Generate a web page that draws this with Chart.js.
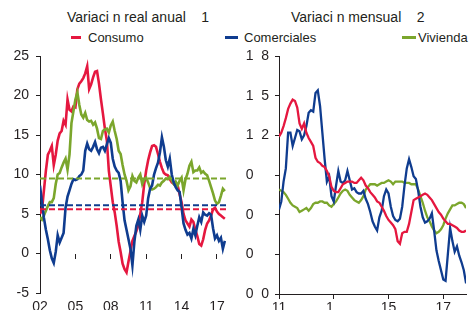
<!DOCTYPE html>
<html lang="es">
<head>
<meta charset="utf-8">
<script src="https://cdn.jsdelivr.net/npm/chart.js@4.4.1/dist/chart.umd.min.js"></script>
<style>
  html, body { margin: 0; padding: 0; background: #fff; }
  body { width: 476px; height: 310px; overflow: hidden; position: relative;
         font-family: "Liberation Sans", Arial, sans-serif; color: #231f20; }
  .titulo { position: absolute; top: 10px; font-size: 14px; line-height: 14px; white-space: pre; }
  .leyenda { position: absolute; top: 31px; font-size: 13px; line-height: 13px; white-space: pre; }
  .marca { position: absolute; top: 36px; height: 3px; }
  canvas { position: absolute; top: 0; }
</style>
</head>
<body>
<div class="titulo" style="left:67px">Variaci n real anual    1</div>
<div class="titulo" style="left:291px">Variaci n mensual    2</div>

<div class="marca" id="m1" style="left:71px;width:10px"></div>
<div class="leyenda" style="left:88px">Consumo</div>
<div class="marca" id="m2" style="left:225px;width:13px"></div>
<div class="leyenda" style="left:244px">Comerciales</div>
<div class="marca" id="m3" style="left:402px;width:14px"></div>
<div class="leyenda" style="left:418px">Vivienda</div>

<canvas id="izq" width="236" height="330" style="left:0"></canvas>
<canvas id="der" width="240" height="330" style="left:236px"></canvas>

<script>
// colores de las series
const rojo = '#e5173f'
const azul = '#0f3c8f'
const verde = '#7ba62c'
const ejeColor = '#231f20'

// panel izquierdo: variación real anual, datos bimestrales desde 2002
const inicioIzq = 2002
const pasoIzq = 1 / 6
const consumoAnual = [5.0,5.5,8.0,10.5,12.5,13.0,13.6,11.2,12.5,14.3,
  15.2,15.5,16.8,16.3,19.5,18.2,18.0,18.6,18.5,20.8,
  21.5,21.8,22.2,22.8,23.7,20.8,21.4,22.3,23.0,23.1,
  21.5,19.5,17.7,15.8,14.3,10.5,8.5,6.5,5.2,3.5,
  1.5,0.2,-1.3,-2.0,-2.4,-1.0,0.3,1.6,2.2,2.8,
  3.6,5.0,6.5,8.8,10.5,11.8,12.8,13.6,13.7,13.5,
  12.6,11.6,10.8,10.2,10.0,9.9,9.4,9.0,8.8,8.7,
  8.6,7.5,6.5,5.0,4.2,3.8,3.4,4.3,4.0,3.0,
  2.2,1.2,1.0,1.8,3.0,3.8,4.2,4.8,5.6,5.8,
  5.3,5.0,4.8,4.6,4.4]
const comercialesAnual = [8.6,6.5,4.5,3.0,1.8,0.4,-0.6,-1.2,0.2,2.3,
  1.4,2.0,2.6,5.8,7.2,8.0,8.8,9.4,9.3,9.4,
  9.8,10.0,10.5,13.0,13.9,13.2,13.0,13.5,14.1,13.2,
  12.7,13.4,13.5,13.0,13.8,14.6,14.0,12.0,11.0,10.5,
  10.2,9.2,6.5,4.2,3.0,1.8,0.6,-1.5,1.5,3.5,
  4.3,3.0,4.8,4.0,4.8,7.0,8.2,8.6,10.0,10.8,
  11.5,12.8,14.7,13.5,11.8,11.0,12.0,10.0,9.0,8.4,
  8.0,7.8,5.8,3.8,3.0,2.4,2.6,1.9,3.1,2.3,
  3.5,4.6,4.0,5.2,4.9,4.8,5.1,4.9,3.2,1.9,
  2.3,1.6,2.0,0.6,1.6]
const viviendaAnual = [4.6,4.3,4.8,5.4,6.0,6.5,6.5,7.0,8.8,10.0,
  10.2,10.9,11.5,12.0,10.6,12.5,16.5,18.0,19.5,20.4,
  18.8,17.6,17.2,17.8,16.9,16.7,16.8,16.3,16.6,15.8,
  14.6,14.5,15.5,15.7,15.8,15.3,16.2,16.7,15.5,14.5,
  13.0,12.6,11.2,10.0,9.2,8.0,8.5,9.8,9.2,9.0,
  9.6,10.0,8.8,9.4,9.6,9.0,8.3,8.1,8.2,8.4,
  8.7,8.6,9.0,9.2,9.5,9.4,9.7,9.3,8.8,9.1,
  8.6,9.2,9.6,8.0,9.4,10.1,11.1,11.6,10.3,10.5,
  10.5,10.9,10.2,10.4,10.1,9.9,9.2,8.4,7.6,6.7,
  6.3,6.5,7.3,8.2,7.9]
// promedios (líneas punteadas): consumo, comerciales, vivienda
const promediosAnual = [5.6, 6.1, 9.5]
const ticksIzqX = [2002, 2005, 2008, 2011, 2014, 2017]
const etiquetasIzqX = ['02', '05', '08', '11', '14', '17']
const ticksIzqY = [-5, 0, 5, 10, 15, 20, 25]
const etiquetasIzqY = ['-5', '0', '5', '10', '15', '20', '25']

// panel derecho: variación mensual, datos mensuales desde 2011
const inicioDer = 2011
const pasoDer = 1 / 12
const consumoMensual = [1.19,1.22,1.27,1.33,1.40,1.44,1.47,1.46,1.41,1.29,
  1.25,1.29,1.22,1.18,1.15,1.12,1.03,1.00,0.99,0.97,
  0.96,0.93,0.89,0.81,0.78,0.77,0.77,0.80,0.83,0.84,
  0.85,0.85,0.85,0.84,0.84,0.86,0.88,0.86,0.82,0.80,
  0.77,0.75,0.73,0.70,0.69,0.66,0.63,0.59,0.56,0.54,
  0.52,0.49,0.40,0.38,0.46,0.47,0.47,0.53,0.62,0.71,
  0.72,0.73,0.74,0.75,0.76,0.75,0.73,0.71,0.68,0.65,
  0.62,0.60,0.57,0.55,0.53,0.53,0.52,0.51,0.50,0.48,
  0.47,0.47,0.48]
const comercialesMensual = [0.64,0.70,0.85,0.95,1.22,1.22,1.12,1.18,1.24,1.23,
  1.17,1.20,1.27,1.37,1.39,1.38,1.52,1.54,1.42,1.22,
  1.02,0.85,0.89,0.74,0.70,0.82,0.93,0.85,0.84,0.86,
  0.93,0.86,0.79,0.80,0.77,0.76,0.76,0.78,0.72,0.68,
  0.62,0.55,0.51,0.48,0.58,0.63,0.74,0.79,0.76,0.66,
  0.59,0.56,0.55,0.57,0.66,0.82,0.95,1.02,0.96,0.89,
  0.87,0.78,0.66,0.58,0.54,0.55,0.57,0.61,0.48,0.33,
  0.25,0.18,0.11,0.10,0.30,0.50,0.40,0.32,0.36,0.29,
  0.24,0.18,0.08]
const viviendaMensual = [0.79,0.78,0.77,0.75,0.72,0.69,0.67,0.66,0.65,0.62,
  0.63,0.64,0.65,0.63,0.65,0.68,0.69,0.69,0.70,0.70,
  0.69,0.69,0.67,0.66,0.68,0.70,0.73,0.76,0.78,0.79,
  0.78,0.75,0.73,0.71,0.70,0.69,0.71,0.74,0.79,0.81,
  0.83,0.83,0.83,0.82,0.83,0.84,0.84,0.85,0.86,0.85,
  0.83,0.85,0.85,0.85,0.85,0.84,0.84,0.84,0.83,0.83,
  0.83,0.79,0.74,0.69,0.63,0.58,0.55,0.51,0.48,0.46,
  0.47,0.49,0.52,0.57,0.61,0.64,0.67,0.67,0.68,0.69,
  0.69,0.68,0.65]
const ticksDerX = [2011, 2013, 2015, 2017]
const etiquetasDerX = ['11', '1  ', '15', '17']
const ticksDerY = [0, 0.3, 0.6, 0.9, 1.2, 1.5, 1.8]
const etiquetasDerY = ['0  0', '0    ', '0    ', '0    ', '1  2', '1  5', '1  8']

document.getElementById('m1').style.background = rojo
document.getElementById('m2').style.background = azul
document.getElementById('m3').style.background = verde

Chart.defaults.font.family = '"Liberation Sans", Arial, sans-serif'
Chart.defaults.font.size = 14
Chart.defaults.color = ejeColor

const puntos = (valores, inicio, paso) => valores.map((v, i) => ({ x: inicio + i * paso, y: v }))
const fijarTicks = valores => scale => { scale.ticks = valores.map(v => ({ value: v })) }

const linea = (valores, inicio, paso, color, orden, ancho) => ({
    data: puntos(valores, inicio, paso),
    borderColor: color,
    borderWidth: ancho,
    pointRadius: 0,
    tension: 0,
    fill: false,
    order: orden
})

const promedio = (valor, min, max, color) => ({
    data: [{ x: min, y: valor }, { x: max, y: valor }],
    borderColor: color,
    borderWidth: 2,
    borderDash: [6, 3],
    pointRadius: 0,
    fill: false,
    order: 0
})

const baseOpciones = {
    responsive: false,
    animation: false,
    events: [],
    plugins: { legend: { display: false }, tooltip: { enabled: false } }
}

// --- panel izquierdo ---
const minIzq = 2002
const maxIzq = 2017.85

new Chart(document.getElementById('izq'), {
    type: 'line',
    data: {
        datasets: [
            promedio(promediosAnual[0], minIzq, maxIzq, rojo),
            promedio(promediosAnual[1], minIzq, maxIzq, azul),
            promedio(promediosAnual[2], minIzq, maxIzq, verde),
            linea(comercialesAnual, inicioIzq, pasoIzq, azul, 1, 2.6),
            linea(viviendaAnual, inicioIzq, pasoIzq, verde, 2, 2.6),
            linea(consumoAnual, inicioIzq, pasoIzq, rojo, 3, 2.6)
        ]
    },
    options: {
        ...baseOpciones,
        layout: { padding: { top: 56, right: 9, left: 0, bottom: 0 } },
        scales: {
            x: {
                type: 'linear', min: minIzq, max: maxIzq,
                afterBuildTicks: fijarTicks(ticksIzqX),
                afterFit: scale => { scale.height = 37 },
                ticks: { callback: (v, i) => etiquetasIzqX[i], padding: 6, maxRotation: 0, autoSkip: false },
                grid: { display: false, drawTicks: false },
                border: { display: false }
            },
            x2: {
                type: 'linear', min: minIzq, max: maxIzq,
                position: { y: 0 },
                afterBuildTicks: fijarTicks(ticksIzqX),
                ticks: { display: false },
                grid: { drawOnChartArea: false, tickLength: 5, color: ejeColor },
                border: { display: false }
            },
            y: {
                min: -5, max: 25,
                afterBuildTicks: fijarTicks(ticksIzqY),
                afterFit: scale => { scale.width = 40 },
                ticks: { callback: (v, i) => etiquetasIzqY[i], padding: 7 },
                grid: { drawOnChartArea: false, tickLength: 4, color: ejeColor },
                border: { color: ejeColor, width: 1 }
            }
        }
    }
})

// --- panel derecho ---
const minDer = 2011
const maxDer = 2017.83

new Chart(document.getElementById('der'), {
    type: 'line',
    data: {
        datasets: [
            linea(consumoMensual, inicioDer, pasoDer, rojo, 1, 2.3),
            linea(comercialesMensual, inicioDer, pasoDer, azul, 2, 2.3),
            linea(viviendaMensual, inicioDer, pasoDer, verde, 3, 2.3)
        ]
    },
    options: {
        ...baseOpciones,
        layout: { padding: { top: 56, right: 10, left: 0, bottom: 0 } },
        scales: {
            x: {
                type: 'linear', min: minDer, max: maxDer,
                afterBuildTicks: fijarTicks(ticksDerX),
                afterFit: scale => { scale.height = 36 },
                ticks: { callback: (v, i) => etiquetasDerX[i], padding: 1, maxRotation: 0, autoSkip: false },
                grid: { drawOnChartArea: false, tickLength: 5, color: ejeColor },
                border: { color: ejeColor, width: 1 }
            },
            y: {
                min: 0, max: 1.8,
                afterBuildTicks: fijarTicks(ticksDerY),
                afterFit: scale => { scale.width = 43 },
                ticks: { callback: (v, i) => etiquetasDerY[i], padding: 6 },
                grid: { drawOnChartArea: false, tickLength: 4, color: ejeColor },
                border: { color: ejeColor, width: 1 }
            }
        }
    }
})
</script>
</body>
</html>
